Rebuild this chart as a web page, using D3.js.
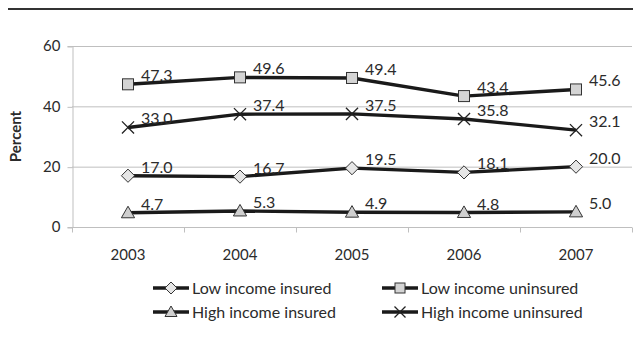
<!DOCTYPE html>
<html>
<head>
<meta charset="utf-8">
<script src="https://cdn.jsdelivr.net/npm/d3@7"></script>
<style>
  html, body { margin: 0; padding: 0; background: #fff; }
  svg { display: block; }
  text { font-family: Lato, "Open Sans", sans-serif; fill: #2b2b2b; }
</style>
</head>
<body>
<svg id="chart" width="633" height="347"></svg>
<script>
// Share of people (percent) by income and insurance status, 2003-2007
const years = ["2003", "2004", "2005", "2006", "2007"];
const lowInsured    = [17.0, 16.7, 19.5, 18.1, 20.0];
const lowUninsured  = [47.3, 49.6, 49.4, 43.4, 45.6];
const highInsured   = [4.7, 5.3, 4.9, 4.8, 5.0];
const highUninsured = [33.0, 37.4, 37.5, 35.8, 32.1];
const yTicks = [0, 20, 40, 60];

const series = [
  { name: "Low income insured",    values: lowInsured,    marker: "diamond" },
  { name: "Low income uninsured",  values: lowUninsured,  marker: "square" },
  { name: "High income insured",   values: highInsured,   marker: "triangle" },
  { name: "High income uninsured", values: highUninsured, marker: "cross" }
];

const svg = d3.select("#chart");
const plot = { left: 72, right: 632, top: 46, bottom: 227 };

const x = d3.scaleBand().domain(years).range([plot.left, plot.right]);
const y = d3.scaleLinear().domain([0, 60]).range([plot.bottom, plot.top]);

// rule across the top
svg.append("line")
  .attr("x1", 8).attr("x2", 633).attr("y1", 9).attr("y2", 9)
  .attr("stroke", "#333").attr("stroke-width", 2);

// horizontal gridlines
svg.append("g").selectAll("line").data(yTicks.filter(d => d > 0)).join("line")
  .attr("x1", plot.left).attr("x2", plot.right)
  .attr("y1", d => y(d) + 0.5).attr("y2", d => y(d) + 0.5)
  .attr("stroke", "#bfbfbf").attr("stroke-width", 1);

// y axis
const yAxis = svg.append("g")
  .attr("transform", `translate(${plot.left + 0.5},0)`)
  .call(d3.axisLeft(y).tickValues(yTicks).tickSize(5).tickPadding(7));
yAxis.select(".domain").attr("stroke", "#bfbfbf");
yAxis.selectAll(".tick line").attr("stroke", "#bfbfbf").attr("transform", "translate(0,0.5)");
yAxis.selectAll(".tick text").attr("font-size", 15).attr("fill", "#333")
  .style("font-family", "Lato, sans-serif");

// x axis with ticks between categories
const xAxis = svg.append("g")
  .attr("transform", `translate(0,${plot.bottom + 0.5})`);
xAxis.append("line")
  .attr("x1", plot.left).attr("x2", plot.right)
  .attr("stroke", "#bfbfbf");
const boundaries = years.map(d => x(d)).concat([x(years[years.length - 1]) + x.bandwidth()]);
xAxis.selectAll("line.tk").data(boundaries).join("line")
  .attr("class", "tk")
  .attr("x1", d => Math.round(d) + 0.5).attr("x2", d => Math.round(d) + 0.5)
  .attr("y1", 0).attr("y2", 5)
  .attr("stroke", "#bfbfbf");
xAxis.selectAll("text").data(years).join("text")
  .attr("x", d => x(d) + x.bandwidth() / 2)
  .attr("y", 32)
  .attr("text-anchor", "middle")
  .attr("font-size", 15)
  .text(d => d);

// y axis title
svg.append("text")
  .attr("transform", `translate(21,${(plot.top + plot.bottom) / 2}) rotate(-90)`)
  .attr("text-anchor", "middle")
  .attr("font-size", 15)
  .attr("font-weight", "bold")
  .text("Percent");

// marker shapes
function drawMarker(g, type, size) {
  const s = size;
  if (type === "diamond") {
    g.append("path").attr("d", `M0,${-s * 0.6}L${s * 0.6},0L0,${s * 0.6}L${-s * 0.6},0Z`)
      .attr("fill", "#e6e6e6").attr("stroke", "#333").attr("stroke-width", 1);
  } else if (type === "square") {
    g.append("rect").attr("x", -s / 2).attr("y", -s / 2).attr("width", s).attr("height", s)
      .attr("fill", "#d4d4d4").attr("stroke", "#333").attr("stroke-width", 1);
  } else if (type === "triangle") {
    g.append("path").attr("d", `M0,${-s * 0.6}L${s * 0.6},${s * 0.45}L${-s * 0.6},${s * 0.45}Z`)
      .attr("fill", "#cfcfcf").attr("stroke", "#333").attr("stroke-width", 1);
  } else if (type === "cross") {
    const h = s * 0.55;
    g.append("path").attr("d", `M${-h},${-h}L${h},${h}M${-h},${h}L${h},${-h}`)
      .attr("fill", "none").attr("stroke", "#222").attr("stroke-width", 1.3);
  }
}

const cx = d => x(d) + x.bandwidth() / 2;
const line = d3.line().x((v, i) => cx(years[i])).y(v => y(v));

series.forEach(s => {
  const g = svg.append("g");
  g.append("path").attr("d", line(s.values))
    .attr("fill", "none").attr("stroke", "#1a1a1a").attr("stroke-width", 3.4)
    .attr("stroke-linejoin", "round");
  s.values.forEach((v, i) => {
    const m = g.append("g").attr("transform", `translate(${cx(years[i])},${y(v)})`);
    drawMarker(m, s.marker, 11);
  });
  g.selectAll("text").data(s.values).join("text")
    .attr("x", (v, i) => cx(years[i]) + 13)
    .attr("y", v => y(v) - 3)
    .attr("font-size", 16)
    .attr("fill", "#333")
    .text(v => v.toFixed(1));
});

// legend
const legendPos = [
  { x: 153, y: 288 }, { x: 382, y: 288 },
  { x: 153, y: 312 }, { x: 382, y: 312 }
];
series.forEach((s, i) => {
  const p = legendPos[i];
  const g = svg.append("g").attr("transform", `translate(${p.x},${p.y})`);
  g.append("line").attr("x1", 0).attr("x2", 36).attr("y1", 0).attr("y2", 0)
    .attr("stroke", "#1a1a1a").attr("stroke-width", 3.4);
  const m = g.append("g").attr("transform", "translate(18,0)");
  drawMarker(m, s.marker, 10);
  g.append("text").attr("x", 39).attr("y", 5.5)
    .attr("font-size", 16).attr("fill", "#333").text(s.name);
});
</script>
</body>
</html>
